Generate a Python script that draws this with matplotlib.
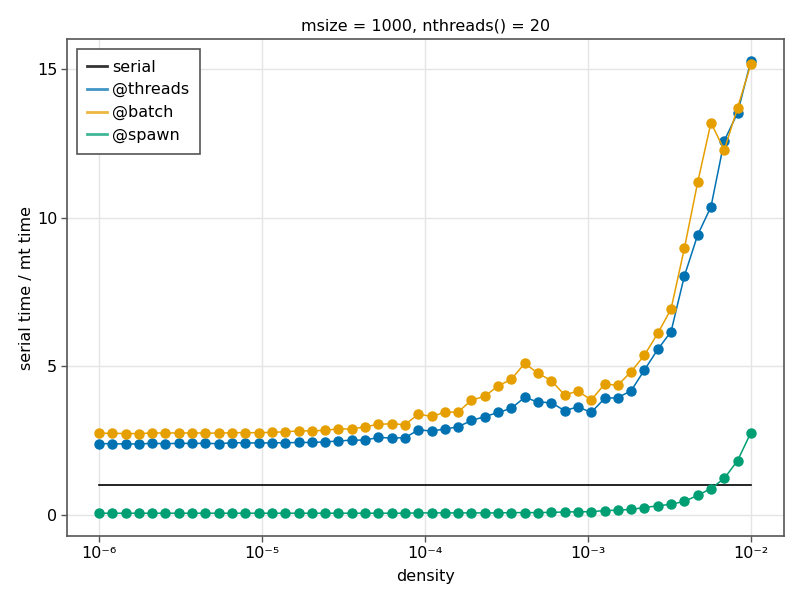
import numpy as np
import matplotlib.pyplot as plt
from matplotlib.lines import Line2D

# x values: 50 log-spaced densities
density = np.logspace(-6, -2, 50)

serial = [1.0] * 50

threads = [2.40, 2.40, 2.39, 2.39, 2.41, 2.40, 2.41, 2.41, 2.41, 2.40,
           2.43, 2.43, 2.42, 2.43, 2.43, 2.44, 2.44, 2.46, 2.49, 2.52,
           2.52, 2.61, 2.59, 2.60, 2.86, 2.83, 2.89, 2.97, 3.18, 3.31,
           3.45, 3.59, 3.96, 3.80, 3.78, 3.51, 3.64, 3.45, 3.92, 3.95,
           4.18, 4.88, 5.57, 6.17, 8.04, 9.42, 10.37, 12.59, 13.53, 15.28]

batch = [2.75, 2.75, 2.74, 2.74, 2.76, 2.76, 2.76, 2.76, 2.76, 2.75,
         2.77, 2.77, 2.77, 2.78, 2.80, 2.83, 2.83, 2.85, 2.90, 2.89,
         2.97, 3.05, 3.07, 3.04, 3.39, 3.32, 3.45, 3.47, 3.86, 4.00,
         4.34, 4.57, 5.10, 4.77, 4.52, 4.04, 4.17, 3.87, 4.40, 4.37,
         4.82, 5.38, 6.11, 6.93, 8.97, 11.19, 13.20, 12.28, 13.70, 15.17]

spawn = [0.06, 0.06, 0.06, 0.06, 0.06, 0.06, 0.06, 0.06, 0.06, 0.06,
         0.06, 0.06, 0.06, 0.06, 0.06, 0.06, 0.06, 0.06, 0.06, 0.06,
         0.06, 0.06, 0.06, 0.06, 0.07, 0.07, 0.07, 0.07, 0.07, 0.07,
         0.07, 0.08, 0.08, 0.08, 0.09, 0.10, 0.11, 0.11, 0.15, 0.16,
         0.19, 0.25, 0.31, 0.36, 0.46, 0.66, 0.89, 1.23, 1.83, 2.77]

blue = '#0072B2'
orange = '#E69F00'
green = '#009E73'
fs = 11.5

fig = plt.figure(figsize=(8, 6), dpi=100)
ax = fig.add_axes([0.08375, 0.1067, 0.896, 0.828])

ax.plot(density, serial, color='black', lw=1.2)
ax.plot(density, threads, color=blue, lw=1.1, marker='o', ms=6.5)
ax.plot(density, batch, color=orange, lw=1.1, marker='o', ms=6.5)
ax.plot(density, spawn, color=green, lw=1.1, marker='o', ms=6.5)

ax.set_xscale('log')
ax.set_xlim(10 ** -6.196, 10 ** -1.798)
ax.set_ylim(-0.706, 16.01)
ax.set_xticks([1e-6, 1e-5, 1e-4, 1e-3, 1e-2])
ax.set_xticklabels(['10⁻⁶', '10⁻⁵', '10⁻⁴', '10⁻³', '10⁻²'])
ax.xaxis.set_minor_locator(plt.NullLocator())
ax.set_yticks([0, 5, 10, 15])

ax.grid(True, color='#e5e5e5', lw=1)
ax.set_axisbelow(True)
for s in ax.spines.values():
    s.set_color('#555555')
    s.set_linewidth(1.2)
ax.tick_params(direction='out', length=4, width=1, color='#555555',
               labelsize=fs, pad=3)

ax.set_title('msize = 1000, nthreads() = 20', fontsize=fs)
ax.set_xlabel('density', fontsize=fs, labelpad=6)
ax.set_ylabel('serial time / mt time', fontsize=fs, labelpad=2)

handles = [Line2D([], [], color=c, lw=2, alpha=0.75 if c != 'black' else 0.8)
           for c in ['black', blue, orange, green]]
labels = ['serial', '@threads', '@batch', '@spawn']
leg = ax.legend(handles, labels, loc='upper left', fontsize=fs, handlelength=1.2,
                fancybox=False, framealpha=1, borderpad=0.65,
                labelspacing=0.48, handletextpad=0.35, borderaxespad=0,
                bbox_to_anchor=(10 / 717, 1 - 10 / 497))
leg.get_frame().set_edgecolor('#555555')
leg.get_frame().set_linewidth(1.2)

fig.savefig('out.png')
